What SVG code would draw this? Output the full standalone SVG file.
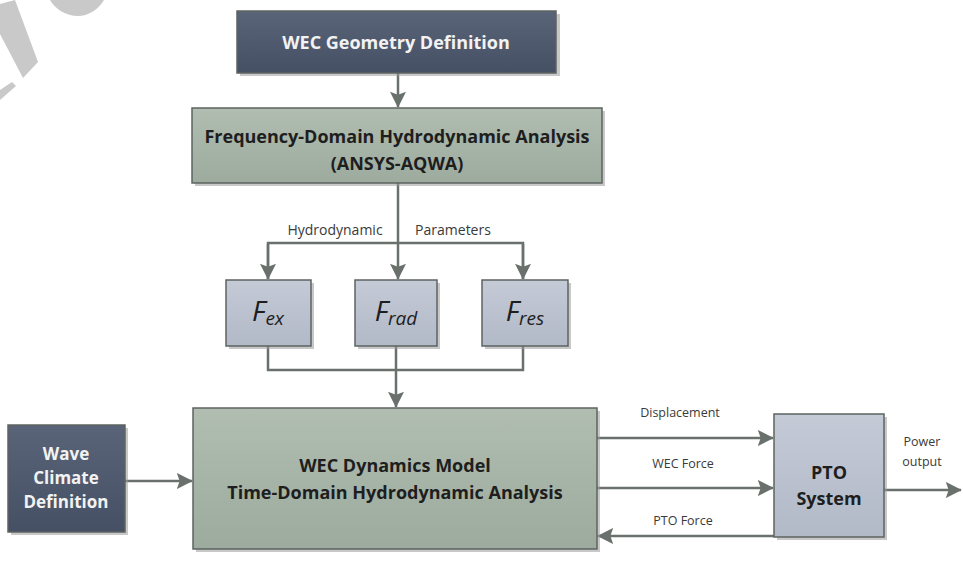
<svg xmlns="http://www.w3.org/2000/svg" width="963" height="561" viewBox="0 0 963 561">
<defs>
<linearGradient id="gDark" x1="0" y1="0" x2="0" y2="1"><stop offset="0" stop-color="#5a6479"/><stop offset="1" stop-color="#465064"/></linearGradient>
<linearGradient id="gGreen" x1="0" y1="0" x2="0" y2="1"><stop offset="0" stop-color="#b0bdb0"/><stop offset="1" stop-color="#9dab9f"/></linearGradient>
<linearGradient id="gBlue" x1="0" y1="0" x2="0" y2="1"><stop offset="0" stop-color="#c4cad6"/><stop offset="1" stop-color="#b2b9c7"/></linearGradient>
<marker id="ah" viewBox="0 0 10 10" refX="9.5" refY="5" markerWidth="16" markerHeight="16" orient="auto" markerUnits="userSpaceOnUse"><path d="M0,0 L10,5 L0,10 L1.8,5 Z" fill="#6a716c"/></marker>
</defs>
<style>
.shadow{fill:#9a9a9a;opacity:0.55}
.box{stroke:#5d6360;stroke-width:1.5}
.dark{fill:url(#gDark)}
.green{fill:url(#gGreen)}
.blue{fill:url(#gBlue)}
.conn{fill:none;stroke:#6a716c;stroke-width:2.5}
.tw{font-family:"Open Sans","Liberation Sans",sans-serif;font-weight:bold;fill:#f2f2f2;text-anchor:middle}
.tb{font-family:"Open Sans","Liberation Sans",sans-serif;font-weight:bold;fill:#1e1e1e;text-anchor:middle}
.lab{font-family:"Open Sans","Liberation Sans",sans-serif;font-size:12.5px;fill:#3a3a3a;text-anchor:middle}
.lab2{font-family:"Open Sans","Liberation Sans",sans-serif;font-size:14px;fill:#3a3a3a;text-anchor:middle}
.f{font-family:"Open Sans","Liberation Sans",sans-serif;font-style:italic;fill:#1e1e1e;text-anchor:middle}
.wm{fill:#c9c9c9}
</style>
<rect width="963" height="561" fill="#ffffff"/>
<g id="watermark">
<path class="wm" d="M0,4 L15,0 L38,62 L23,78 L0,34 Z"/>
<path class="wm" d="M50,0 L104,0 C98,10 88,16 78,16 C66,16 55,9 50,0 Z"/>
<path class="wm" d="M0,90 L12,82 L16,86 L0,100 Z"/>
</g>
<g id="connectors">
<line class="conn" x1="398" y1="73" x2="398" y2="107" marker-end="url(#ah)"/>
<line class="conn" x1="398" y1="183" x2="398" y2="279" marker-end="url(#ah)"/>
<polyline class="conn" points="268,279 268,243 523,243 523,279"/>
<line class="conn" x1="268" y1="244" x2="268" y2="279" marker-end="url(#ah)"/>
<line class="conn" x1="523" y1="244" x2="523" y2="279" marker-end="url(#ah)"/>
<polyline class="conn" points="268,346 268,370 523,370 523,346"/>
<line class="conn" x1="396" y1="346" x2="396" y2="407" marker-end="url(#ah)"/>
<line class="conn" x1="125" y1="481" x2="192" y2="481" marker-end="url(#ah)"/>
<line class="conn" x1="597" y1="438" x2="773" y2="438" marker-end="url(#ah)"/>
<line class="conn" x1="597" y1="488" x2="773" y2="488" marker-end="url(#ah)"/>
<line class="conn" x1="774" y1="536" x2="598" y2="536" marker-end="url(#ah)"/>
<line class="conn" x1="884" y1="490" x2="961" y2="490" marker-end="url(#ah)"/>
<text class="lab2" x="335" y="235">Hydrodynamic</text>
<text class="lab2" x="453" y="235">Parameters</text>
<text class="lab" x="680" y="417">Displacement</text>
<text class="lab" x="683" y="468">WEC Force</text>
<text class="lab" x="683" y="525">PTO Force</text>
<text class="lab" x="922" y="446">Power</text>
<text class="lab" x="922" y="466">output</text>
</g>
<g id="geometry">
<rect class="shadow" x="240" y="14" width="320" height="62"/>
<rect class="box dark" x="237" y="11" width="319" height="62"/>
<text class="tw" x="396" y="49" font-size="18">WEC Geometry Definition</text>
</g>
<g id="frequency">
<rect class="shadow" x="195" y="111" width="410" height="75"/>
<rect class="box green" x="192" y="108" width="410" height="75"/>
<text class="tb" x="397" y="143" font-size="18">Frequency-Domain Hydrodynamic Analysis</text>
<text class="tb" x="397" y="170" font-size="18">(ANSYS-AQWA)</text>
</g>
<g id="fex">
<rect class="shadow" x="229" y="283" width="85" height="66"/>
<rect class="box blue" x="226" y="280" width="85" height="66"/>
<text class="f" x="268" y="321"><tspan font-size="28">F</tspan><tspan font-size="19" dy="4">ex</tspan></text>
</g>
<g id="frad">
<rect class="shadow" x="358" y="283" width="82" height="66"/>
<rect class="box blue" x="355" y="280" width="82" height="66"/>
<text class="f" x="396" y="321"><tspan font-size="28">F</tspan><tspan font-size="19" dy="4">rad</tspan></text>
</g>
<g id="fres">
<rect class="shadow" x="485" y="283" width="86" height="66"/>
<rect class="box blue" x="482" y="280" width="86" height="66"/>
<text class="f" x="525" y="321"><tspan font-size="28">F</tspan><tspan font-size="19" dy="4">res</tspan></text>
</g>
<g id="wave">
<rect class="shadow" x="11" y="428" width="117" height="107"/>
<rect class="box dark" x="8" y="425" width="117" height="107"/>
<text class="tw" x="66" y="460" font-size="17">Wave</text>
<text class="tw" x="66" y="484" font-size="17">Climate</text>
<text class="tw" x="66" y="508" font-size="17">Definition</text>
</g>
<g id="dynamics">
<rect class="shadow" x="196" y="411" width="404" height="141"/>
<rect class="box green" x="193" y="408" width="404" height="141"/>
<text class="tb" x="395" y="472" font-size="18">WEC Dynamics Model</text>
<text class="tb" x="395" y="499" font-size="18">Time-Domain Hydrodynamic Analysis</text>
</g>
<g id="pto">
<rect class="shadow" x="777" y="417" width="110" height="123"/>
<rect class="box blue" x="774" y="414" width="110" height="123"/>
<text class="tb" x="829" y="479" font-size="18">PTO</text>
<text class="tb" x="829" y="505" font-size="18">System</text>
</g>
</svg>
